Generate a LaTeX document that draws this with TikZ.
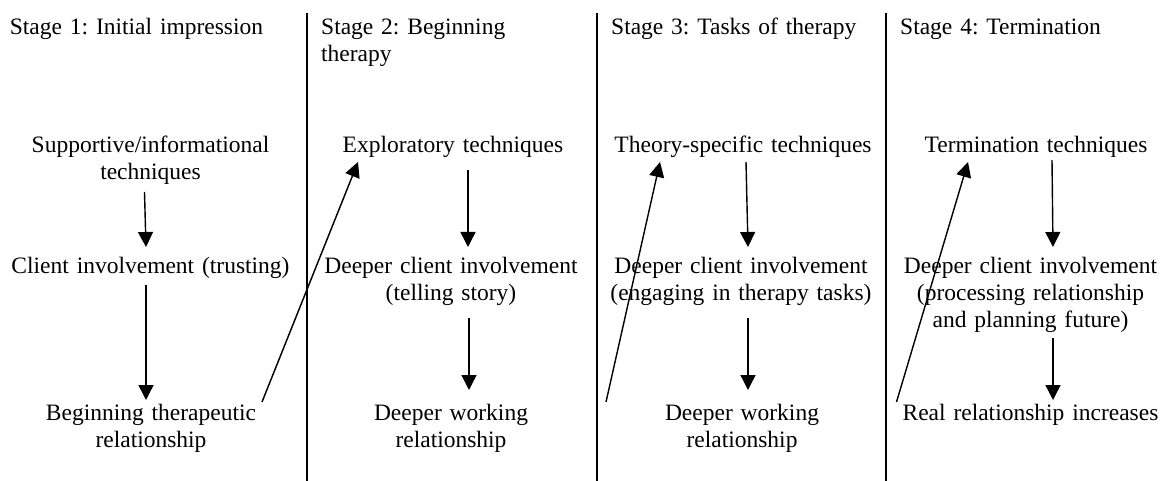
\documentclass[tikz,border=0pt]{standalone}
\usepackage{fontspec}
\setmainfont{Liberation Serif}
\usetikzlibrary{arrows.meta,calc}
\frenchspacing
\begin{document}
\begin{tikzpicture}[x=1pt,y=-1pt,
  txt/.style={font=\fontsize{23.5}{27}\selectfont, inner sep=0pt, anchor=base, text width=290pt, align=center},
  hdr/.style={font=\fontsize{23.5}{27}\selectfont, inner sep=0pt, anchor=base west, text width=275pt, align=left},
  arr/.style={line width=1.4pt, -{Triangle[width=15pt,length=15pt]}},
  divider/.style={line width=2.3pt}]
\useasboundingbox (0,0) rectangle (1162,481);
\fill[white] (0,0) rectangle (1162,481);

% column dividers
\draw[divider] (307,13) -- (307,481);
\draw[divider] (597,13) -- (597,481);
\draw[divider] (886,13) -- (886,481);

% headers
\node[hdr] (h1) at (9.7,35) {Stage 1: Initial impression};
\node[hdr] (h2) at (321,35) {Stage 2: Beginning\\therapy};
\node[hdr] (h3) at (611,35) {Stage 3: Tasks of therapy};
\node[hdr] (h4) at (900,35) {Stage 4: Termination};

% column 1
\node[txt] (t1) at (150.5,153) {Supportive/informational\\techniques};
\node[txt] (c1) at (150.5,273) {Client involvement (trusting)};
\node[txt] (r1) at (151,420) {Beginning therapeutic\\relationship};
% column 2
\node[txt] (t2) at (453,153) {Exploratory techniques};
\node[txt] (c2) at (451,273) {Deeper client involvement\\(telling story)};
\node[txt] (r2) at (451,420) {Deeper working\\relationship};
% column 3
\node[txt] (t3) at (743,153) {Theory-specific techniques};
\node[txt] (c3) at (741,273) {Deeper client involvement\\(engaging in therapy tasks)};
\node[txt] (r3) at (742,420) {Deeper working\\relationship};
% column 4
\node[txt] (t4) at (1036,153) {Termination techniques};
\node[txt] (c4) at (1030.5,273) {Deeper client involvement\\(processing relationship\\and planning future)};
\node[txt] (r4) at (1030.5,420) {Real relationship increases};

% vertical arrows
\draw[arr] ($(t1.base)+(-6,39)$) -- ($(c1.base)+(-4.5,-26)$);
\draw[arr] ($(c1.base)+(-4.5,12)$) -- ($(r1.base)+(-5,-20)$);
\draw[arr] ($(t2.base)+(15,17)$) -- ($(c2.base)+(17,-26)$);
\draw[arr] ($(c2.base)+(18,45)$) -- ($(r2.base)+(18,-30)$);
\draw[arr] ($(t3.base)+(3,9)$) -- ($(c3.base)+(7,-26)$);
\draw[arr] ($(c3.base)+(7,45)$) -- ($(r3.base)+(6,-30)$);
\draw[arr] ($(t4.base)+(16,7)$) -- ($(c4.base)+(22.5,-26)$);
\draw[arr] ($(c4.base)+(22.5,65)$) -- ($(r4.base)+(22.5,-20)$);

% diagonal arrows to the next stage
\draw[arr] ($(r1.base)+(111,-18)$) -- ($(t2.base)+(-95,9)$);
\draw[arr] ($(r2.base)+(155,-18)$) -- ($(t3.base)+(-83,9)$);
\draw[arr] ($(r3.base)+(154.5,-18)$) -- ($(t4.base)+(-68,9)$);
\end{tikzpicture}
\end{document}
